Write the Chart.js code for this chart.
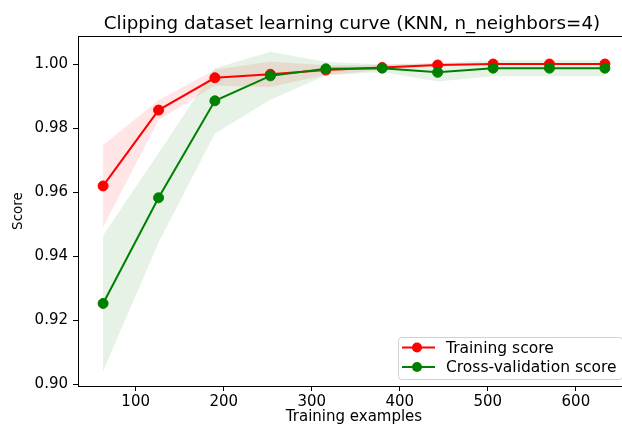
<!DOCTYPE html>
<html>
<head>
<meta charset="utf-8">
<script src="https://cdn.jsdelivr.net/npm/chart.js@4.4.1/dist/chart.umd.min.js"></script>
<style>
  html, body { margin: 0; padding: 0; overflow: hidden; background: #fff; }
  #wrap { width: 640px; height: 426px; position: relative; }
</style>
</head>
<body>
<div id="wrap"><canvas id="c"></canvas></div>
<script>
// Learning-curve data: training set sizes, mean scores and their standard deviations
const trainSizes = [63, 126, 190, 253, 316, 380, 443, 506, 570, 633];
const trainMean  = [0.9619, 0.9856, 0.9957, 0.9968, 0.9981, 0.9989, 0.9997, 1.0000, 1.0000, 1.0000];
const trainStd   = [0.0128, 0.0031, 0.0025, 0.0040, 0.0015, 0.0008, 0.0005, 0.0000, 0.0000, 0.0000];
const cvMean     = [0.9252, 0.9582, 0.9885, 0.9963, 0.9985, 0.9987, 0.9974, 0.9987, 0.9987, 0.9987];
const cvStd      = [0.0212, 0.0140, 0.0102, 0.0075, 0.0021, 0.0012, 0.0029, 0.0025, 0.0025, 0.0025];

const xTicks = [100, 200, 300, 400, 500, 600];
const yTicks = [0.90, 0.92, 0.94, 0.96, 0.98, 1.00];

const titleText = 'Clipping dataset learning curve (KNN, n_neighbors=4)';
const xTitle = 'Training examples';
const yTitle = 'Score';
const seriesNames = ['Training score', 'Cross-validation score'];

const FONT = 'DejaVu Sans';
const RED = '#ff0000';
const GREEN = '#008000';

const pts = (ys) => trainSizes.map((x, i) => ({ x: x, y: ys[i] }));
const upper = (m, s) => pts(m.map((v, i) => v + s[i]));
const lower = (m, s) => pts(m.map((v, i) => v - s[i]));

const bandStyle = { pointRadius: 0, borderWidth: 0, tension: 0, showLine: true, borderColor: 'rgba(0,0,0,0)' };

const datasets = [
  // 0,1: training score band (mean +/- std)
  Object.assign({ data: upper(trainMean, trainStd), fill: false, order: 4, backgroundColor: 'rgba(255,0,0,0.1)' }, bandStyle),
  Object.assign({ data: lower(trainMean, trainStd), fill: 0, order: 4, backgroundColor: 'rgba(255,0,0,0.1)' }, bandStyle),
  // 2,3: cross-validation band (mean +/- std)
  Object.assign({ data: upper(cvMean, cvStd), fill: false, order: 3, backgroundColor: 'rgba(0,128,0,0.1)' }, bandStyle),
  Object.assign({ data: lower(cvMean, cvStd), fill: 2, order: 3, backgroundColor: 'rgba(0,128,0,0.1)' }, bandStyle),
  // 4: training score line
  { label: seriesNames[0], data: pts(trainMean), borderColor: RED, backgroundColor: RED, borderWidth: 2,
    pointRadius: 5, pointBorderWidth: 1, pointBackgroundColor: RED, pointBorderColor: RED, fill: false, order: 1, showLine: true },
  // 5: cross-validation line
  { label: seriesNames[1], data: pts(cvMean), borderColor: GREEN, backgroundColor: GREEN, borderWidth: 2,
    pointRadius: 5, pointBorderWidth: 1, pointBackgroundColor: GREEN, pointBorderColor: GREEN, fill: false, order: 0, showLine: true }
];

// Title, frame and legend drawn on top of the plot
const decorations = {
  id: 'decorations',
  afterDraw(chart) {
    const { ctx, chartArea: a } = chart;
    ctx.save();
    // frame around the axes
    ctx.strokeStyle = '#000';
    ctx.lineWidth = 1;
    ctx.strokeRect(Math.round(a.left) + 0.5, Math.round(a.top) + 0.5, Math.round(a.right - a.left), Math.round(a.bottom - a.top));

    // title
    ctx.fillStyle = '#000';
    ctx.font = '18.3px "' + FONT + '"';
    ctx.textAlign = 'center';
    ctx.textBaseline = 'alphabetic';
    ctx.fillText(titleText, (a.left + a.right) / 2 - 2, 29);

    // legend box in the lower right corner
    const bx = a.right - 232, by = a.bottom - 49, bw = 224, bh = 42;
    ctx.beginPath();
    ctx.roundRect(bx + 0.5, by + 0.5, bw, bh, 3);
    ctx.fillStyle = 'rgba(255,255,255,0.8)';
    ctx.fill();
    ctx.strokeStyle = 'rgba(204,204,204,0.9)';
    ctx.lineWidth = 1;
    ctx.stroke();

    const lines = [chart.data.datasets[4], chart.data.datasets[5]];
    ctx.font = '15.5px "' + FONT + '"';
    ctx.textAlign = 'left';
    ctx.textBaseline = 'middle';
    lines.forEach((ds, i) => {
      const cy = by + 10.5 + i * 19.5;
      ctx.strokeStyle = ds.borderColor;
      ctx.lineWidth = 2;
      ctx.beginPath();
      ctx.moveTo(bx + 4, cy);
      ctx.lineTo(bx + 37, cy);
      ctx.stroke();
      ctx.beginPath();
      ctx.arc(bx + 19, cy, 5, 0, Math.PI * 2);
      ctx.fillStyle = ds.borderColor;
      ctx.fill();
      ctx.fillStyle = '#000';
      ctx.fillText(ds.label, bx + 48, cy + 1);
    });
    ctx.restore();
  }
};

new Chart(document.getElementById('c'), {
  type: 'scatter',
  data: { datasets: datasets },
  options: {
    responsive: true,
    maintainAspectRatio: false,
    animation: false,
    devicePixelRatio: 1,
    layout: { padding: { left: 4, right: 10, top: 36, bottom: 0 } },
    plugins: {
      legend: { display: false },
      tooltip: { enabled: false },
      title: { display: false }
    },
    scales: {
      x: {
        type: 'linear',
        min: 34.5,
        max: 661.5,
        afterBuildTicks: (s) => { s.ticks = xTicks.map(v => ({ value: v })); },
        afterFit: (s) => { s.height = 40; },
        grid: { display: true, drawOnChartArea: false, drawTicks: true, tickLength: 5, color: '#000' },
        border: { display: true, color: '#000', width: 1 },
        ticks: { color: '#000', font: { family: FONT, size: 15 }, padding: 2, maxRotation: 0,
                 callback: (v) => String(v) },
        title: { display: true, text: xTitle, color: '#000', font: { family: FONT, size: 15 }, padding: { top: 0, bottom: 0 } }
      },
      y: {
        type: 'linear',
        min: 0.8994,
        max: 1.00875,
        afterBuildTicks: (s) => { s.ticks = yTicks.map(v => ({ value: v })); },
        afterFit: (s) => { s.width = 74; },
        grid: { display: true, drawOnChartArea: false, drawTicks: true, tickLength: 5, color: '#000' },
        border: { display: true, color: '#000', width: 1 },
        ticks: { color: '#000', font: { family: FONT, size: 15 }, padding: 5,
                 callback: (v) => Number(v).toFixed(2) },
        title: { display: true, text: yTitle, color: '#000', font: { family: FONT, size: 13.5 }, padding: { top: 6, bottom: 0 } }
      }
    }
  },
  plugins: [decorations]
});
</script>
</body>
</html>
